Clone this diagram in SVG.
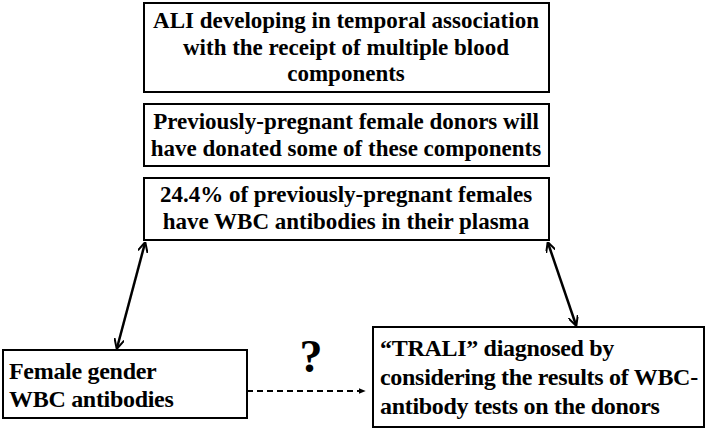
<svg xmlns="http://www.w3.org/2000/svg" width="707" height="431" viewBox="0 0 707 431">
<style>
rect{fill:#fff;stroke:#000;stroke-width:2}
text{font-family:'Liberation Serif','Times New Roman','DejaVu Serif',serif;font-weight:700;font-size:23px;fill:#000}
.c{text-anchor:middle}
.n{font-size:24px;letter-spacing:-0.3px}
</style>
<defs>
<marker id="a" viewBox="0 0 10 10" refX="9" refY="5" markerWidth="10" markerHeight="10" orient="auto-start-reverse" markerUnits="userSpaceOnUse"><path d="M0,0L10,5L0,10" fill="none" stroke="#000" stroke-width="2"/></marker>
<marker id="b" viewBox="0 0 10 10" refX="9" refY="5" markerWidth="7" markerHeight="7" orient="auto" markerUnits="userSpaceOnUse"><path d="M0,1L10,5L0,9z" fill="#000"/></marker>
</defs>
<rect width="707" height="431" style="stroke:none"/>
<g id="n1"><rect x="144" y="3" width="405" height="89"/>
<text class="c" x="346" y="28">ALI developing in temporal association</text>
<text class="c" x="346" y="55">with the receipt of multiple blood</text>
<text class="c" x="346" y="81">components</text></g>
<g id="n2"><rect x="144" y="104" width="405" height="62"/>
<text class="c" x="346" y="129">Previously-pregnant female donors will</text>
<text class="c" x="346" y="156">have donated some of these components</text></g>
<g id="n3"><rect x="144" y="178" width="405" height="62"/>
<text class="c" x="346" y="202">24.4% of previously-pregnant females</text>
<text class="c" x="346" y="229">have WBC antibodies in their plasma</text></g>
<g id="n4"><rect x="3" y="350" width="244" height="68"/>
<text class="n" x="9" y="379">Female gender</text>
<text class="n" x="9" y="407">WBC antibodies</text></g>
<g id="n5"><rect x="373" y="327" width="331" height="100"/>
<text class="n" x="380" y="356">“TRALI” diagnosed by</text>
<text class="n" x="380" y="385">considering the results of WBC-</text>
<text class="n" x="380" y="414">antibody tests on the donors</text></g>
<text x="311" y="372" class="c" style="font-size:46px">?</text>
<g id="edges" fill="none" stroke="#000" stroke-width="2.5">
<line x1="145" y1="243" x2="117" y2="348" marker-start="url(#a)" marker-end="url(#a)"/>
<line x1="548" y1="243" x2="576" y2="325" marker-start="url(#a)" marker-end="url(#a)"/>
<line x1="247" y1="391" x2="365" y2="391" stroke-width="1.8" stroke-dasharray="6,4" marker-end="url(#b)"/>
</g>
</svg>
